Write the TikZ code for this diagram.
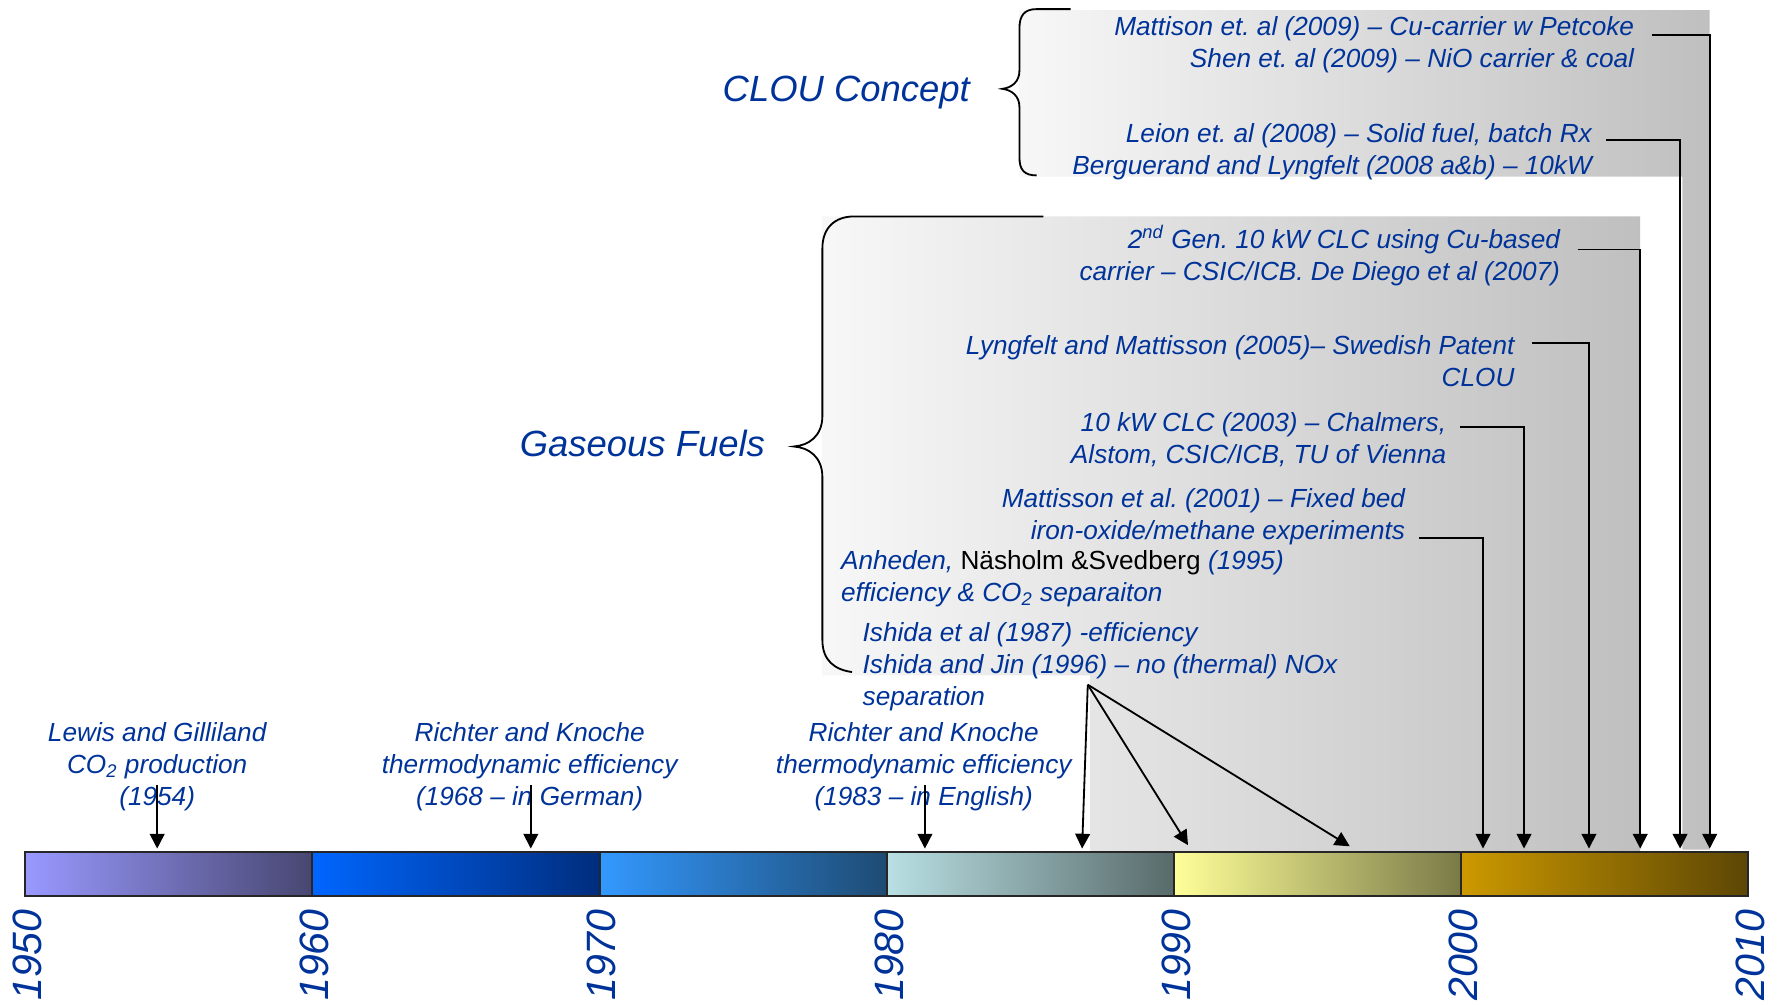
\documentclass[tikz,border=0pt]{standalone}
\usepackage{fontspec}
\setmainfont{Liberation Sans}
\usetikzlibrary{arrows.meta}
\definecolor{LabelColor}{RGB}{0,51,153}
\definecolor{DecA}{RGB}{153,153,255}\definecolor{DecAd}{RGB}{72,70,112}
\definecolor{DecB}{RGB}{0,102,255}\definecolor{DecBd}{RGB}{0,45,125}
\definecolor{DecC}{RGB}{51,153,255}\definecolor{DecCd}{RGB}{30,75,115}
\definecolor{DecD}{RGB}{185,224,228}\definecolor{DecDd}{RGB}{88,106,106}
\definecolor{DecE}{RGB}{255,255,153}\definecolor{DecEd}{RGB}{122,122,72}
\definecolor{DecF}{RGB}{204,153,0}\definecolor{DecFd}{RGB}{92,70,5}

\begin{document}
\frenchspacing
\begin{tikzpicture}[x=0.5pt,y=-0.5pt]
\tikzstyle{note} = [font=\fontsize{11.5}{14}\selectfont\itshape, text=LabelColor, inner sep=0pt]
\tikzstyle{group} = [font=\fontsize{16}{19}\selectfont\itshape, text=LabelColor, inner sep=0pt]
\tikzstyle{year} = [font=\fontsize{18}{20}\selectfont\itshape, text=LabelColor, inner sep=0pt, rotate=90, anchor=east]
\tikzstyle{shadebox} = [left color=black!3, right color=black!25]
\tikzstyle{decade} = [draw=black!85, line width=0.9pt]
\tikzstyle{brace} = [draw, line width=0.8pt]
\tikzstyle{connector} = [draw, line width=0.8pt, -{Triangle[length=6.5pt,width=6.5pt]}]

\useasboundingbox (0,0) rectangle (1568,882);

\shade [shadebox] (895,9) -- (1501,9) -- (1501,746) -- (1477,746) -- (1477,155) -- (895,155) -- cycle;
\shade [shadebox] (722,190) -- (1440,190) -- (1440,747) -- (957,747) -- (957,593) -- (722,593) -- cycle;

\path [brace] (940,8) -- (910,8) .. controls (899,8) and (895,14) .. (895,25) -- (895,62) .. controls (895,72) and (888,77) .. (880,78) .. controls (888,79) and (895,84) .. (895,94) -- (895,138) .. controls (895,149) and (899,154) .. (910,154);
\path [brace] (916,190) -- (750,190) .. controls (733,190) and (722,200) .. (722,218) -- (722,365) .. controls (722,383) and (710,391) .. (697,392) .. controls (710,393) and (722,401) .. (722,419) -- (722,562) .. controls (722,580) and (733,588) .. (748,590);

\foreach \i/\cl/\cr in {0/DecA/DecAd, 1/DecB/DecBd, 2/DecC/DecCd, 3/DecD/DecDd, 4/DecE/DecEd, 5/DecF/DecFd}
  \shadedraw [decade, left color=\cl, right color=\cr] ({22+252.17*\i},748) rectangle ({22+252.17*(\i+1)},787);
\foreach \i [evaluate=\i as \yr using int(1950+10*\i)] in {0,...,6}
  \node [year] at ({24+252.17*\i},798) (yr\i) {\yr};

\node [group] at (743,81) (clou) {CLOU Concept};
\node [group] at (564,389) (gas) {Gaseous Fuels};

\node [note, anchor=east, align=right] at (1435,39) (m2009) {Mattison et. al (2009) – Cu-carrier w Petcoke\\Shen et. al (2009) – NiO carrier \& coal};
\node [note, anchor=east, align=right] at (1398,133) (l2008) {Leion et. al (2008) – Solid fuel, batch Rx\\Berguerand and Lyngfelt (2008 a\&b) – 10kW};
\node [note, anchor=east, align=right] at (1370,224.5) (g2007) {2\textsuperscript{nd} Gen. 10 kW CLC using Cu-based\\carrier – CSIC/ICB. De Diego et al (2007)};
\node [note, anchor=east, align=right] at (1330,317) (g2005) {Lyngfelt and Mattisson (2005)– Swedish Patent\\CLOU};
\node [note, anchor=east, align=right] at (1270,386) (g2003) {10 kW CLC (2003) – Chalmers,\\Alstom, CSIC/ICB, TU of Vienna};
\node [note, anchor=east, align=right] at (1234,453.5) (g2001) {Mattisson et al. (2001) – Fixed bed\\iron-oxide/methane experiments};
\node [note, anchor=west, align=left] at (738,508) (g1995) {Anheden, {\upshape\color{black}Näsholm \&Svedberg} (1995)\\efficiency \& CO\textsubscript{2} separaiton};
\node [note, anchor=west, align=left] at (757,585) (g1987) {Ishida et al (1987) -efficiency\\Ishida and Jin (1996) – no (thermal) NOx\\separation};

\node [note, align=center] at (138,673) (lewis) {Lewis and Gilliland\\CO\textsubscript{2} production\\(1954)};
\node [note, align=center] at (465,673) (rk1968) {Richter and Knoche\\thermodynamic efficiency\\(1968 – in German)};
\node [note, align=center] at (811,673) (rk1983) {Richter and Knoche\\thermodynamic efficiency\\(1983 – in English)};

\coordinate (t1954) at (138,745);
\coordinate (t1968) at (466,745);
\coordinate (t1983) at (812,745);
\coordinate (t1987) at (950,745);
\coordinate (t1990) at (1043,742);
\coordinate (t1996) at (1185,743);
\coordinate (t2001) at (1302,745);
\coordinate (t2003) at (1338,745);
\coordinate (t2005) at (1395,745);
\coordinate (t2007) at (1440,745);
\coordinate (t2008) at (1475,745);
\coordinate (t2009) at (1501,745);
\coordinate (fan) at ([xshift=99pt,yshift=11.5pt]g1987.south west);

\path [connector] ([yshift=-8pt]lewis.center) -- (t1954);
\path [connector] ([xshift=0.5pt,yshift=-8pt]rk1968.center) -- (t1968);
\path [connector] ([xshift=0.5pt,yshift=-8pt]rk1983.center) -- (t1983);
\path [connector] (fan) -- (t1987);
\path [connector] (fan) -- (t1990);
\path [connector] (fan) -- (t1996);
\path [connector] ([xshift=6pt,yshift=-9.5pt]g2001.east) -| (t2001);
\path [connector] ([xshift=6pt,yshift=5.5pt]g2003.east) -| (t2003);
\path [connector] ([xshift=7.5pt,yshift=8pt]g2005.east) -| (t2005);
\path [connector] ([xshift=7.5pt,yshift=2.75pt]g2007.east) -| (t2007);
\path [connector] ([xshift=6pt,yshift=5pt]l2008.east) -| (t2008);
\path [connector] ([xshift=7.5pt,yshift=4pt]m2009.east) -| (t2009);

\end{tikzpicture}
\end{document}
